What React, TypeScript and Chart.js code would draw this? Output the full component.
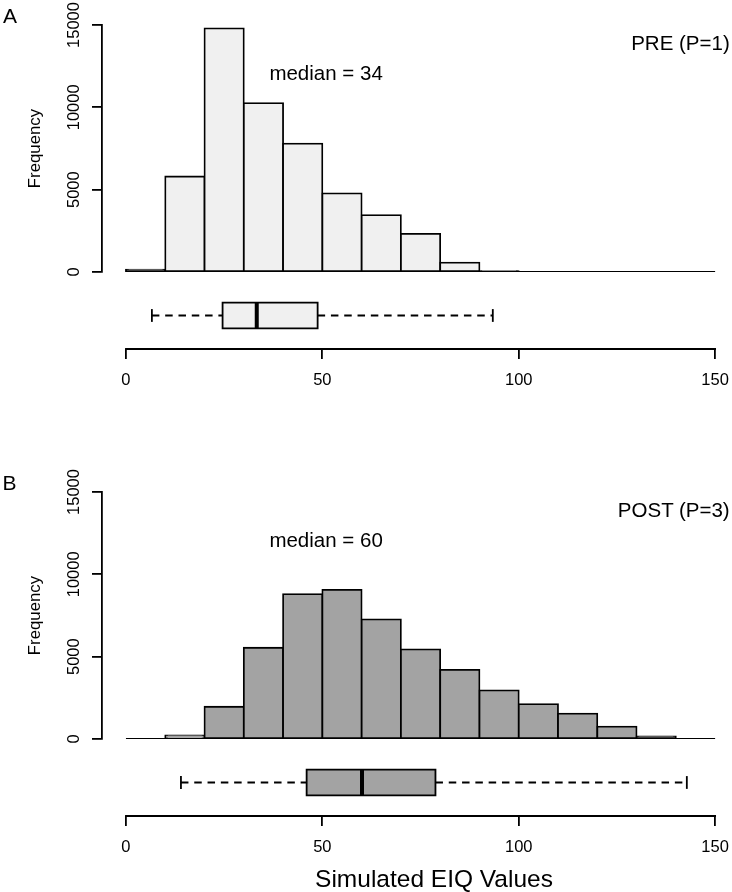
import React, { useEffect, useRef } from "react";
import { Chart, registerables } from "chart.js";

Chart.register(...registerables);

// ---------- data ----------
const binEdges = [0, 10, 20, 30, 40, 50, 60, 70, 80, 90, 100, 110, 120, 130, 140, 150];
const preCounts = [150, 5800, 14800, 10250, 7800, 4780, 3460, 2310, 565, 40, 0, 0, 0, 0, 0];
const postCounts = [0, 220, 1960, 5540, 8800, 9060, 7260, 5440, 4200, 2950, 2120, 1535, 750, 160, 0];
// whisker low, Q1, median, Q3, whisker high
const preBoxStats = [6.6, 24.6, 33.3, 48.8, 93.4];
const postBoxStats = [14.0, 46.0, 60.1, 78.8, 142.8];
const xTicks = [0, 50, 100, 150];
const yTicks = [0, 5000, 10000, 15000];
const panelLetters = ["A", "B"];
const panelTags = ["PRE (P=1)", "POST (P=3)"];
const medianLabels = ["median = 34", "median = 60"];
const xTitle = "Simulated EIQ Values";
const yTitle = "Frequency";

// ---------- style ----------
const FONT = "'Liberation Sans', Arial, Helvetica, sans-serif";
const LW = 1.8;
const W = 732;
const PANEL_H = 446;

type PanelProps = {
  counts: number[];
  box: number[];
  fill: string;
  padTop: number;
  xAxisH: number;
  top: number;
};

function Panel({ counts, box, fill, padTop, xAxisH, top }: PanelProps) {
  const ref = useRef<HTMLCanvasElement | null>(null);

  useEffect(() => {
    if (!ref.current) return;
    const [lo, q1, med, q3, hi] = box;
    const centers = binEdges.slice(0, -1).map((e, i) => (e + binEdges[i + 1]) / 2);
    const lineBase: any = {
      type: "line",
      xAxisID: "x",
      pointRadius: 0,
      pointHoverRadius: 0,
      borderColor: "#000",
      borderWidth: LW,
      fill: false,
      tension: 0,
    };

    const spinePlugin = {
      id: "rSpine",
      afterDraw(chart: any) {
        const xs = chart.scales.x;
        const ctx = chart.ctx;
        ctx.save();
        ctx.strokeStyle = "#000";
        ctx.lineWidth = LW;
        ctx.lineCap = "square";
        ctx.beginPath();
        ctx.moveTo(xs.getPixelForValue(xTicks[0]), xs.top);
        ctx.lineTo(xs.getPixelForValue(xTicks[xTicks.length - 1]), xs.top);
        ctx.stroke();
        ctx.restore();
      },
    };

    // very thin bars are almost all border in the reference
    const barFill = (c: any) => {
      const v = c.raw && typeof c.raw.y === "number" ? c.raw.y : 0;
      const s = c.chart.scales && c.chart.scales.y;
      if (!s) return fill;
      const h = s.getPixelForValue(0) - s.getPixelForValue(v);
      return h > 0 && h < 2 * LW ? "#3a3a3a" : fill;
    };

    const chart = new Chart(ref.current, {
      type: "bar",
      data: {
        datasets: [
          { ...lineBase, yAxisID: "yb", data: [{ x: med, y: -1 }, { x: med, y: 1 }], borderWidth: 4, borderCapStyle: "butt", order: 0 },
          {
            ...lineBase,
            yAxisID: "yb",
            data: [{ x: q1, y: -1 }, { x: q1, y: 1 }, { x: q3, y: 1 }, { x: q3, y: -1 }, { x: q1, y: -1 }],
            borderCapStyle: "square",
            borderJoinStyle: "miter",
            order: 1,
          },
          { ...lineBase, yAxisID: "yb", data: [{ x: lo, y: 0 }, { x: q1, y: 0 }], borderDash: [7.5, 5.8], order: 2 },
          { ...lineBase, yAxisID: "yb", data: [{ x: q3, y: 0 }, { x: hi, y: 0 }], borderDash: [7.5, 5.8], order: 2 },
          { ...lineBase, yAxisID: "yb", data: [{ x: lo, y: -0.5 }, { x: lo, y: 0.5 }], order: 2 },
          { ...lineBase, yAxisID: "yb", data: [{ x: hi, y: -0.5 }, { x: hi, y: 0.5 }], order: 2 },
          {
            ...lineBase,
            yAxisID: "yb",
            data: [{ x: q1, y: 1 }, { x: q3, y: 1 }],
            borderColor: "rgba(0,0,0,0)",
            borderWidth: 0.01,
            backgroundColor: fill,
            fill: { value: -1 },
            order: 6,
          },
          {
            ...lineBase,
            yAxisID: "y",
            data: [{ x: binEdges[0], y: 0 }, { x: binEdges[binEdges.length - 1], y: 0 }],
            borderCapStyle: "butt",
            order: 3,
          },
          {
            type: "bar",
            xAxisID: "x",
            yAxisID: "y",
            data: centers.map((c, i) => ({ x: c, y: counts[i] })),
            backgroundColor: barFill,
            borderColor: "#000",
            borderWidth: LW,
            borderSkipped: false,
            inflateAmount: LW / 2,
            barPercentage: 1,
            categoryPercentage: 1,
            order: 4,
          },
        ] as any,
      },
      options: {
        responsive: false,
        maintainAspectRatio: false,
        animation: false,
        devicePixelRatio: 1,
        events: [],
        layout: { padding: { top: padTop, left: 0, right: 0, bottom: 0 }, autoPadding: false } as any,
        plugins: {
          legend: { display: false },
          tooltip: { enabled: false },
          title: { display: false },
        },
        scales: {
          x: {
            type: "linear",
            position: "bottom",
            min: -6.1,
            max: 154.3,
            offset: false,
            afterBuildTicks: (s: any) => {
              s.ticks = xTicks.map((v) => ({ value: v }));
            },
            ticks: {
              autoSkip: false,
              maxRotation: 0,
              minRotation: 0,
              padding: 0,
              color: "#000",
              font: { family: FONT, size: 16.5, lineHeight: 2.55 },
              callback: (v: any) => String(v),
            },
            grid: {
              display: true,
              offset: false,
              drawOnChartArea: false,
              drawTicks: true,
              tickLength: 10,
              color: "#000",
              lineWidth: LW,
            },
            border: { display: false },
            afterFit: (s: any) => {
              s.height = xAxisH;
            },
          },
          y: {
            type: "linear",
            position: "left",
            stack: "panel",
            stackWeight: 247,
            weight: 2,
            min: 0,
            max: 15000,
            afterBuildTicks: (s: any) => {
              s.ticks = yTicks.map((v) => ({ value: v }));
            },
            ticks: {
              minRotation: 90,
              maxRotation: 90,
              crossAlign: "center",
              padding: -5.2,
              color: "#000",
              font: { family: FONT, size: 16.5 },
              callback: (v: any) => String(v),
            },
            grid: {
              display: true,
              drawOnChartArea: false,
              drawTicks: true,
              tickLength: 10,
              color: "#000",
              lineWidth: LW,
            },
            border: { display: true, color: "#000", width: LW },
            title: {
              display: true,
              text: yTitle,
              color: "#000",
              font: { family: FONT, size: 16.8 },
              padding: { top: 25.5, bottom: 0 },
            },
            afterFit: (s: any) => {
              s.width = 102;
            },
          },
          yb: {
            type: "linear",
            position: "left",
            stack: "panel",
            stackWeight: 77,
            weight: 1,
            min: -2.62,
            max: 3.4,
            ticks: { display: false },
            grid: { display: false },
            border: { display: false },
            afterFit: (s: any) => {
              s.width = 102;
            },
          },
        } as any,
      },
      plugins: [spinePlugin],
    });
    return () => chart.destroy();
  }, [counts, box, fill, padTop, xAxisH]);

  return (
    <canvas
      ref={ref}
      width={W}
      height={PANEL_H}
      style={{ position: "absolute", left: 0, top, width: W, height: PANEL_H, display: "block" }}
    />
  );
}

function Label({ text, size, baseline, left, right, center }: { text: string; size: number; baseline: number; left?: number; right?: number; center?: number }) {
  const style: any = {
    position: "absolute",
    top: baseline - 0.8465 * size,
    fontFamily: FONT,
    fontSize: size,
    lineHeight: 1,
    whiteSpace: "nowrap",
    color: "#000",
  };
  if (left !== undefined) style.left = left;
  if (right !== undefined) style.right = right;
  if (center !== undefined) {
    style.left = center;
    style.transform = "translateX(-50%)";
  }
  return <div style={style}>{text}</div>;
}

export default function App() {
  return (
    <div style={{ position: "absolute", left: 0, top: 0, width: W, height: 892, background: "#fff", overflow: "hidden" }}>
      <Panel counts={preCounts} box={preBoxStats} fill="#f0f0f0" padTop={25} xAxisH={97} top={0} />
      <Panel counts={postCounts} box={postBoxStats} fill="#a3a3a3" padTop={46} xAxisH={76} top={PANEL_H} />
      <Label text={panelLetters[0]} size={21} baseline={23} left={3} />
      <Label text={panelLetters[1]} size={21} baseline={490} left={2.5} />
      <Label text={medianLabels[0]} size={20.5} baseline={80} left={269.4} />
      <Label text={medianLabels[1]} size={20.5} baseline={547} left={269.4} />
      <Label text={panelTags[0]} size={20.5} baseline={50} right={2.3} />
      <Label text={panelTags[1]} size={20.5} baseline={517} right={2.3} />
      <Label text={xTitle} size={24.5} baseline={887.5} center={434} />
    </div>
  );
}
